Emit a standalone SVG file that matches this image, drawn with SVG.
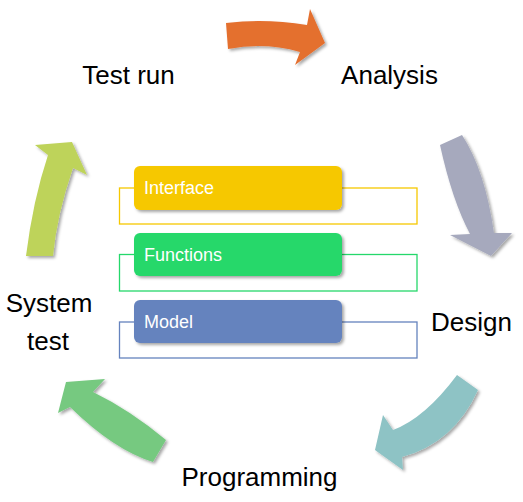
<svg xmlns="http://www.w3.org/2000/svg" width="523" height="502" viewBox="0 0 523 502">
<defs>
<filter id="sh" x="-20%" y="-20%" width="140%" height="140%">
<feDropShadow dx="2" dy="2" stdDeviation="1.5" flood-color="#000" flood-opacity="0.35"/>
</filter>
<style>
.lbl{font-family:"Liberation Sans",Arial,sans-serif;font-size:26px;fill:#000}
.btxt{font-family:"Liberation Sans",Arial,sans-serif;font-size:18px;fill:#fff}
.arr{filter:url(#sh)}
.box{filter:url(#sh)}
.out{fill:none;stroke-width:1.3}
</style>
</defs>
<rect width="523" height="502" fill="#fff"/>
<g id="connectors">
<path class="arr" fill="#E46F2F" d="M226,23 Q265,18 307,25 L310,9 L325,43 L295,65 L300,52 Q265,42 228,49 Z"/>
<path class="arr" fill="#A6A9BD" d="M440,145 Q452,200 470,234 L450,235 L491,256 L512,233 L494,233 Q485,170 462,135 Z"/>
<path class="arr" fill="#8EC3C5" d="M457,375 Q425,418 393,430 L383,415 L375,450 L403,470 L402,457 Q454,443 478,390 Z"/>
<path class="arr" fill="#76C980" d="M166,440 Q130,410 93,392 L105,379 L66,382 L58,413 L70,407 Q114,450 153,462 Z"/>
<path class="arr" fill="#BED35A" d="M26,256 Q33,200 48,155 L35,145 L72,142 L87,175 L73,168 Q57,214 53,256 Z"/>
</g>
<g id="test-run"><text class="lbl" x="128.5" y="84" text-anchor="middle">Test run</text></g>
<g id="analysis"><text class="lbl" x="389.5" y="84" text-anchor="middle">Analysis</text></g>
<g id="design"><text class="lbl" x="471.5" y="331" text-anchor="middle">Design</text></g>
<g id="programming"><text class="lbl" x="259.5" y="486" text-anchor="middle">Programming</text></g>
<g id="system-test"><text class="lbl" x="49" y="312" text-anchor="middle">System</text><text class="lbl" x="48" y="350" text-anchor="middle">test</text></g>
<g id="interface">
<rect class="out" x="119.5" y="188" width="297.5" height="36" stroke="#F6C800"/>
<rect class="box" x="134" y="166" width="208" height="44" rx="6" fill="#F6C800"/>
<text class="btxt" x="144" y="194">Interface</text>
</g>
<g id="functions">
<rect class="out" x="119.5" y="254.5" width="297.5" height="36.5" stroke="#25D86B"/>
<rect class="box" x="134" y="233" width="208" height="43" rx="6" fill="#25D86B"/>
<text class="btxt" x="144" y="261">Functions</text>
</g>
<g id="model">
<rect class="out" x="119.5" y="322" width="297.5" height="36" stroke="#6583BE"/>
<rect class="box" x="134" y="300" width="208" height="43" rx="6" fill="#6583BE"/>
<text class="btxt" x="144" y="328">Model</text>
</g>
</svg>
